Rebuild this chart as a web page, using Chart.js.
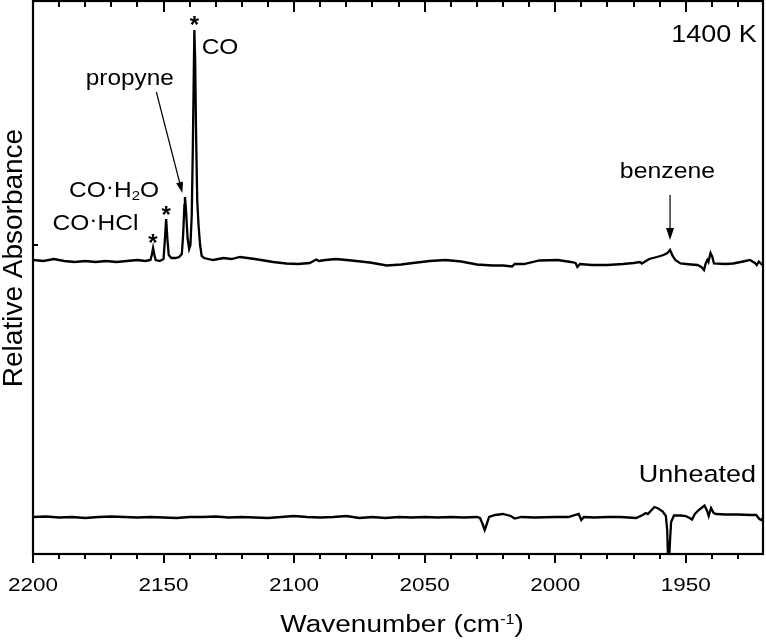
<!DOCTYPE html>
<html>
<head>
<meta charset="utf-8">
<title>IR spectra 1400 K vs unheated</title>
<script src="https://cdn.jsdelivr.net/npm/chart.js@4.4.1/dist/chart.umd.min.js"></script>
<style>
  html, body { margin: 0; padding: 0; background: #fff; }
  canvas { display: block; }
</style>
</head>
<body>
<canvas id="irChart" width="766" height="643"></canvas>
<script>
// Spectrum data (x = wavenumber in cm-1, y = relative absorbance, arb. units)

const wnTop = [
  2200, 2196, 2192, 2188, 2184, 2180, 2176, 2172, 2168, 2164, 2160, 2157, 2155,
  2154.5, 2154, 2153.5, 2153, 2151.5, 2150, 2149.5, 2149, 2148.5, 2148, 2147,
  2145.5, 2144, 2143, 2142.5, 2142, 2141.8, 2141.4, 2140.8, 2140.2, 2139.7,
  2139.2, 2138.8, 2138.4, 2138.2, 2137.9, 2137.5, 2137.1, 2136.6, 2136, 2135.4,
  2134.5, 2131, 2127, 2124, 2120.7, 2115, 2108, 2103, 2098.5, 2094, 2091.5,
  2090.5, 2088, 2084, 2078, 2071, 2064.5, 2059, 2054.5, 2048, 2042, 2036, 2030,
  2024, 2020, 2016.5, 2015.5, 2012, 2006, 1999, 1994, 1992.2, 1991.5, 1990.5,
  1986, 1980, 1974, 1970, 1967.5, 1966.8, 1964, 1961, 1958.5, 1957, 1956, 1955,
  1954, 1952, 1948, 1945.5, 1944, 1943, 1942.3, 1941.7, 1941.3, 1940.5, 1939.8,
  1939.2, 1935, 1931.8, 1928, 1925.4, 1923.5, 1922.8, 1922, 1921, 1920.4
];
const absTop = [
  2.94, 2.93, 2.95, 2.93, 2.92, 2.93, 2.92, 2.93, 2.92, 2.93, 2.94, 2.93, 2.94,
  2.99, 3.06, 2.99, 2.94, 2.93, 2.95, 3.14, 3.35, 3.14, 2.99, 2.96,
  2.96, 2.97, 3.00, 3.19, 3.49, 3.57, 3.44, 3.16, 3.05, 3.09,
  3.39, 4.04, 4.84, 5.24, 4.94, 4.14, 3.54, 3.29, 3.09, 2.98,
  2.96, 2.94, 2.96, 2.95, 2.97, 2.95, 2.92, 2.905, 2.90, 2.91, 2.945,
  2.93, 2.94, 2.95, 2.935, 2.915, 2.885, 2.895, 2.91, 2.93, 2.94, 2.925, 2.895,
  2.885, 2.885, 2.875, 2.90, 2.90, 2.935, 2.94, 2.92, 2.91, 2.87, 2.90,
  2.89, 2.89, 2.90, 2.91, 2.92, 2.905, 2.95, 2.97, 2.99, 3.01, 3.04, 2.98,
  2.94, 2.905, 2.895, 2.89, 2.87, 2.84, 2.91, 2.94, 2.92, 3.01, 2.97,
  2.905, 2.90, 2.905, 2.925, 2.94, 2.91, 2.89, 2.925, 2.90, 2.89
];

const wnBottom = [
  2200, 2195, 2190, 2185, 2180, 2175, 2170, 2165, 2160, 2155, 2150, 2145, 2140,
  2135, 2130, 2125, 2120, 2115, 2110, 2105, 2100, 2095, 2090, 2085, 2080, 2075,
  2070, 2065, 2060, 2055, 2050, 2045, 2040, 2035, 2030, 2028.8, 2027.8, 2027,
  2026.2, 2025.3, 2023, 2020, 2017, 2015.5, 2013, 2008, 2000, 1995, 1991, 1990,
  1989, 1985, 1980, 1975, 1969, 1966.5, 1965.3, 1964.5, 1962, 1960.5, 1958.8,
  1957.6, 1957.1, 1956.6, 1956.0, 1955.6, 1954.5, 1952, 1950, 1948.5, 1947.6,
  1946.5, 1945, 1943.5, 1942.8, 1941.8, 1941.2, 1940.3, 1939.3, 1938.3, 1935,
  1930, 1925, 1923, 1921.8, 1921, 1920.4
];
const absBottom = [
  0.37, 0.375, 0.365, 0.37, 0.36, 0.37, 0.375, 0.37, 0.365, 0.37, 0.365, 0.36, 0.37,
  0.37, 0.375, 0.365, 0.37, 0.365, 0.36, 0.37, 0.38, 0.37, 0.365, 0.37, 0.38, 0.36,
  0.37, 0.36, 0.37, 0.365, 0.37, 0.365, 0.37, 0.365, 0.37, 0.36, 0.30, 0.24,
  0.30, 0.37, 0.39, 0.40, 0.38, 0.355, 0.37, 0.365, 0.37, 0.37, 0.40, 0.34,
  0.37, 0.365, 0.37, 0.37, 0.36, 0.39, 0.41, 0.40, 0.47, 0.455, 0.425,
  0.38, 0.24, -0.2, 0.14, 0.32, 0.385, 0.385, 0.38, 0.36, 0.345,
  0.40, 0.44, 0.47, 0.485, 0.43, 0.38, 0.46, 0.41, 0.40, 0.395,
  0.395, 0.39, 0.39, 0.35, 0.34, 0.36
];

// axis
const xMin = 1920.4;
const xMax = 2200;
const yMin = 0;
const yMax = 5.53;
const xMajorTicks = [2200, 2150, 2100, 2050, 2000, 1950];
const xMinorStep = 10;
const yTickValues = [3.09];

const FONT = '"Liberation Sans", Arial, Helvetica, sans-serif';
const SQ = 0.88; // text in the figure is a bit flattened

function toPoints(xs, ys) {
  return xs.map((x, i) => ({ x: x, y: ys[i] }));
}

function drawText(ctx, str, x, y, size, align, bold, squash) {
  ctx.save();
  ctx.font = (bold ? 'bold ' : '') + size + 'px ' + FONT;
  ctx.textAlign = align || 'left';
  ctx.textBaseline = 'alphabetic';
  ctx.translate(x, y);
  ctx.scale(1, squash === undefined ? SQ : squash);
  ctx.fillText(str, 0, 0);
  ctx.restore();
}

function textWidth(ctx, str, size, bold) {
  ctx.save();
  ctx.font = (bold ? 'bold ' : '') + size + 'px ' + FONT;
  const w = ctx.measureText(str).width;
  ctx.restore();
  return w;
}

// draws a sequence of pieces [text, size, dy] starting at x (left aligned)
function drawPieces(ctx, pieces, x, y) {
  let cx = x;
  pieces.forEach(p => {
    drawText(ctx, p[0], cx, y + (p[2] || 0), p[1], 'left');
    cx += textWidth(ctx, p[0], p[1]);
  });
}

function drawArrow(ctx, x1, y1, x2, y2, head, width) {
  const a = Math.atan2(y2 - y1, x2 - x1);
  ctx.beginPath();
  ctx.moveTo(x1, y1);
  ctx.lineTo(x2 - head * 0.8 * Math.cos(a), y2 - head * 0.8 * Math.sin(a));
  ctx.stroke();
  ctx.beginPath();
  ctx.moveTo(x2, y2);
  ctx.lineTo(x2 - head * Math.cos(a) + width / 2 * Math.sin(a), y2 - head * Math.sin(a) - width / 2 * Math.cos(a));
  ctx.lineTo(x2 - head * Math.cos(a) - width / 2 * Math.sin(a), y2 - head * Math.sin(a) + width / 2 * Math.cos(a));
  ctx.closePath();
  ctx.fill();
}

// frame, ticks, labels and annotations
const frameAndLabels = {
  id: 'frameAndLabels',
  afterDraw(chart) {
    const ctx = chart.ctx;
    const area = chart.chartArea;
    const xs = chart.scales.x;
    const ys = chart.scales.y;
    const X = v => xs.getPixelForValue(v);
    const Y = v => ys.getPixelForValue(v);

    ctx.save();
    ctx.strokeStyle = '#000';
    ctx.fillStyle = '#000';

    // box
    ctx.lineWidth = 2.2;
    ctx.strokeRect(area.left, area.top, area.right - area.left, area.bottom - area.top);

    // x ticks: top ones point in, bottom ones point out
    ctx.lineWidth = 2;
    for (let v = 1930; v <= xMax; v += xMinorStep) {
      const px = Math.round(X(v));
      const major = v % 50 === 0;
      ctx.beginPath();
      ctx.moveTo(px, area.top);
      ctx.lineTo(px, area.top + (major ? 11 : 6));
      ctx.moveTo(px, area.bottom);
      ctx.lineTo(px, area.bottom + (major ? 9 : 5));
      ctx.stroke();
    }
    yTickValues.forEach(v => {
      ctx.beginPath();
      ctx.moveTo(area.left, Y(v));
      ctx.lineTo(area.left + 5, Y(v));
      ctx.stroke();
    });

    // tick labels
    xMajorTicks.forEach(v => drawText(ctx, String(v), X(v), area.bottom + 37, 22.5, 'center', false, 0.85));

    // x title with superscript
    const tSize = 28, sSize = 16;
    const partA = 'Wavenumber (cm', partS = '-1', partB = ')';
    const wTotal = textWidth(ctx, partA, tSize) + textWidth(ctx, partS, sSize) + textWidth(ctx, partB, tSize);
    drawPieces(ctx, [[partA, tSize, 0], [partS, sSize, -8], [partB, tSize, 0]], 402 - wTotal / 2, 632);

    // y title
    ctx.save();
    ctx.translate(21.5, 258);
    ctx.rotate(-Math.PI / 2);
    drawText(ctx, 'Relative Absorbance', 0, 0, 28, 'center', false, 1);
    ctx.restore();

    // annotations (placed in data coordinates)
    drawText(ctx, '1400 K', X(1922.8), Y(5.12), 27, 'right');
    drawText(ctx, 'Unheated', X(1923.1), Y(0.72), 27, 'right');
    drawText(ctx, 'CO', X(2135.4), Y(5.0), 24.5, 'left');
    drawText(ctx, 'propyne', X(2162.9), Y(4.69), 24.4, 'center');
    drawText(ctx, 'benzene', X(1957.0), Y(3.76), 24.8, 'center');
    drawPieces(ctx, [['CO', 24.5, 0], ['\u00b7', 24.5, -3], ['H', 24.5, 0], ['2', 15, 3], ['O', 24.5, 0]], X(2186.2), Y(3.57));
    drawPieces(ctx, [['CO', 24.5, 0], ['\u00b7', 24.5, -3], ['HCl', 24.5, 0]], X(2192.5), Y(3.24));

    // asterisks over the CO-complex peaks
    [[2138.2, 5.35], [2149.0, 3.45], [2154.1, 3.17]].forEach(p => {
      drawText(ctx, '*', X(p[0]), Y(p[1]) + 14, 24, 'center', true, 1);
    });

    // arrows
    ctx.lineWidth = 1.2;
    drawArrow(ctx, X(2152.75), Y(4.62), X(2142.8), Y(3.61), 11, 7);
    drawArrow(ctx, X(1956.0), Y(3.59), X(1956.0), Y(3.14), 12, 8);

    ctx.restore();
  }
};

new Chart(document.getElementById('irChart'), {
  type: 'line',
  data: {
    datasets: [
      {
        label: '1400 K',
        data: toPoints(wnTop, absTop),
        borderColor: '#000',
        borderWidth: 2.3,
        pointRadius: 0,
        tension: 0,
        fill: false
      },
      {
        label: 'Unheated',
        data: toPoints(wnBottom, absBottom),
        borderColor: '#000',
        borderWidth: 2.3,
        pointRadius: 0,
        tension: 0,
        fill: false
      }
    ]
  },
  options: {
    responsive: false,
    animation: false,
    layout: { padding: { left: 33, right: 3, top: 1, bottom: 89 } },
    scales: {
      x: { type: 'linear', reverse: true, min: xMin, max: xMax, display: false },
      y: { type: 'linear', min: yMin, max: yMax, display: false }
    },
    plugins: {
      legend: { display: false },
      tooltip: { enabled: false }
    }
  },
  plugins: [frameAndLabels]
});
</script>
</body>
</html>
